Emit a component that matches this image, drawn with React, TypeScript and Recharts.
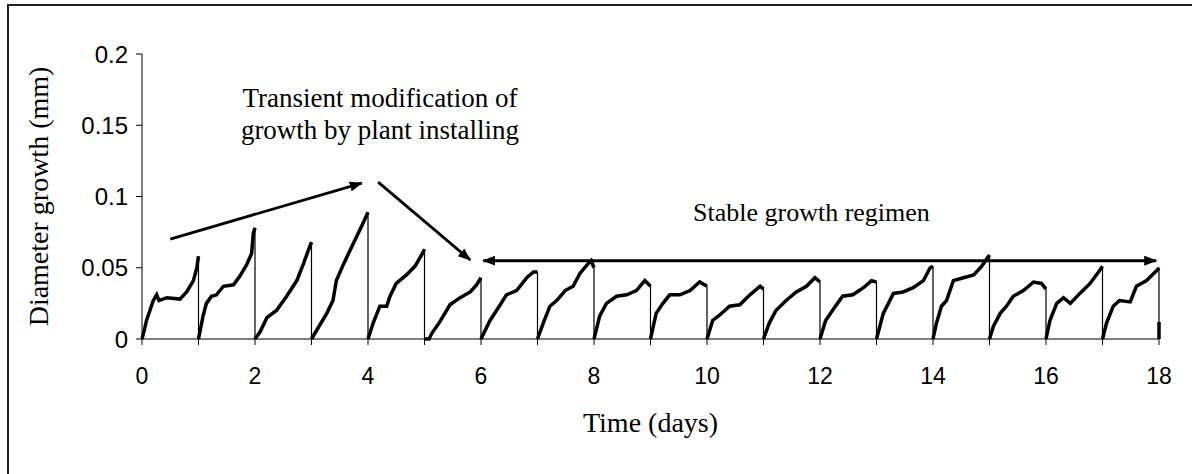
import { LineChart, Line, XAxis, YAxis, ReferenceLine } from "recharts";

type Pt = [number, number];

// daily growth curves (day, diameter growth in mm)
const day00: Pt[] = [[0, 0], [0.04, 0.006], [0.08, 0.013], [0.14, 0.02], [0.2, 0.027], [0.26, 0.031], [0.3, 0.027], [0.44, 0.029], [0.67, 0.028], [0.79, 0.033], [0.91, 0.041], [0.97, 0.05], [1, 0.058]];
const day01: Pt[] = [[1, 0], [1.08, 0.016], [1.14, 0.025], [1.23, 0.03], [1.32, 0.031], [1.44, 0.037], [1.62, 0.038], [1.73, 0.044], [1.85, 0.052], [1.94, 0.06], [1.97, 0.074], [2, 0.078]];
const day02: Pt[] = [[2, 0], [2.09, 0.005], [2.21, 0.015], [2.38, 0.02], [2.56, 0.03], [2.74, 0.041], [2.85, 0.052], [2.97, 0.065], [3, 0.068]];
const day03: Pt[] = [[3, 0], [3.15, 0.01], [3.27, 0.018], [3.38, 0.027], [3.44, 0.041], [3.56, 0.052], [3.74, 0.067], [3.92, 0.082], [4, 0.089]];
const day04: Pt[] = [[4, 0], [4.09, 0.011], [4.21, 0.023], [4.33, 0.023], [4.39, 0.03], [4.5, 0.039], [4.68, 0.045], [4.83, 0.051], [4.95, 0.059], [5, 0.063]];
const day05: Pt[] = [[5, 0], [5.08, 0], [5.13, 0.004], [5.27, 0.012], [5.45, 0.024], [5.63, 0.029], [5.81, 0.033], [5.92, 0.038], [6, 0.043]];
const day06: Pt[] = [[6, 0], [6.16, 0.013], [6.34, 0.024], [6.45, 0.031], [6.63, 0.034], [6.81, 0.043], [6.93, 0.047], [7, 0.047]];
const day07: Pt[] = [[7, 0], [7.1, 0.011], [7.22, 0.023], [7.34, 0.027], [7.49, 0.034], [7.63, 0.037], [7.75, 0.046], [7.9, 0.053], [7.95, 0.055], [8, 0.05]];
const day08: Pt[] = [[8, 0], [8.1, 0.016], [8.22, 0.025], [8.4, 0.03], [8.58, 0.031], [8.75, 0.034], [8.9, 0.041], [9, 0.037]];
const day09: Pt[] = [[9, 0], [9.1, 0.018], [9.22, 0.025], [9.34, 0.031], [9.52, 0.031], [9.7, 0.034], [9.87, 0.04], [10, 0.037]];
const day10: Pt[] = [[10, 0], [10.1, 0.013], [10.23, 0.017], [10.4, 0.023], [10.58, 0.024], [10.76, 0.031], [10.94, 0.037], [11, 0.035]];
const day11: Pt[] = [[11, 0], [11.1, 0.011], [11.22, 0.02], [11.4, 0.027], [11.58, 0.033], [11.76, 0.037], [11.91, 0.043], [12, 0.04]];
const day12: Pt[] = [[12, 0], [12.1, 0.013], [12.22, 0.02], [12.4, 0.03], [12.58, 0.031], [12.77, 0.036], [12.91, 0.041], [13, 0.04]];
const day13: Pt[] = [[13, 0], [13.12, 0.018], [13.3, 0.032], [13.47, 0.033], [13.65, 0.036], [13.83, 0.041], [13.95, 0.05], [14, 0.051]];
const day14: Pt[] = [[14, 0], [14.06, 0.011], [14.15, 0.023], [14.24, 0.027], [14.36, 0.041], [14.54, 0.043], [14.72, 0.045], [14.86, 0.051], [15, 0.059]];
const day15: Pt[] = [[15, 0], [15.07, 0.009], [15.19, 0.018], [15.3, 0.023], [15.42, 0.03], [15.6, 0.034], [15.78, 0.04], [15.92, 0.039], [16, 0.035]];
const day16: Pt[] = [[16, 0], [16.07, 0.013], [16.19, 0.025], [16.31, 0.029], [16.43, 0.025], [16.6, 0.032], [16.78, 0.039], [16.93, 0.047], [17, 0.051]];
const day17: Pt[] = [[17, 0], [17.07, 0.011], [17.19, 0.023], [17.3, 0.027], [17.49, 0.026], [17.6, 0.037], [17.78, 0.041], [17.96, 0.048], [18, 0.05]];
const day18: Pt[] = [[18, 0], [18, 0.012]];

const CURVES = [day00, day01, day02, day03, day04, day05, day06, day07, day08, day09, day10, day11, day12, day13, day14, day15, day16, day17, day18];

const X_TICKS = [0, 1, 2, 3, 4, 5, 6, 7, 8, 9, 10, 11, 12, 13, 14, 15, 16, 17, 18];
const Y_TICKS = [0, 0.05, 0.1, 0.15, 0.2];

// annotation arrows, in data coordinates
const RISE_ARROW = [{ x: 0.5, y: 0.0701 }, { x: 3.89, y: 0.1094 }];
const FALL_ARROW = [{ x: 4.18, y: 0.1101 }, { x: 5.81, y: 0.0554 }];
const STABLE_ARROW = [{ x: 6.04, y: 0.055 }, { x: 17.95, y: 0.055 }];

type Row = { t: number; v: number | null };

const curveData: Row[] = CURVES.flatMap((c) => [
  ...c.map(([t, v]) => ({ t, v })),
  { t: c[c.length - 1][0], v: null },
]);

// thin vertical resets at the end of each day
const dropData: Row[] = CURVES.slice(0, 18).flatMap((c, i) => {
  const peak = c[c.length - 1][1];
  const d = i + 1;
  return [
    { t: d, v: peak },
    { t: d, v: 0 },
    { t: d, v: null },
  ];
});

const SERIF = "'Liberation Serif', 'Times New Roman', serif";
const SANS = "'Liberation Sans', Arial, sans-serif";

function arrowShape(id: string, both: boolean, width: number) {
  return (p: any) => (
    <g>
      <defs>
        <marker
          id={id}
          markerUnits="userSpaceOnUse"
          markerWidth={13}
          markerHeight={10}
          refX={12}
          refY={5}
          orient="auto-start-reverse"
        >
          <path d="M0,0 L13,5 L0,10 z" fill="#000" />
        </marker>
      </defs>
      <line
        x1={p.x1}
        y1={p.y1}
        x2={p.x2}
        y2={p.y2}
        stroke="#000"
        strokeWidth={width}
        markerEnd={`url(#${id})`}
        markerStart={both ? `url(#${id})` : undefined}
      />
    </g>
  );
}

export default function App() {
  return (
    <div style={{ position: "relative", width: 1192, height: 474, background: "#fff" }}>
      <style>{"body{margin:0}"}</style>
      <div
        style={{
          position: "absolute",
          left: 7,
          top: 4,
          right: -10,
          bottom: -10,
          borderTop: "2px solid #222",
          borderLeft: "2px solid #222",
        }}
      />
      <LineChart width={1192} height={474} margin={{ top: 54, right: 33, left: 0, bottom: 35 }}>
        <XAxis
          type="number"
          dataKey="t"
          domain={[0, 18]}
          ticks={X_TICKS}
          tickFormatter={(v: number) => (v % 2 === 0 ? String(v) : "")}
          interval={0}
          height={100}
          tickSize={6}
          tickMargin={23}
          stroke="#000"
          tick={{ fontSize: 23, fill: "#000", fontFamily: SANS }}
          label={{
            value: "Time (days)",
            position: "insideBottom",
            offset: 7,
            style: { fontSize: 28, fill: "#000", fontFamily: SERIF },
          }}
        />
        <YAxis
          type="number"
          domain={[0, 0.2]}
          ticks={Y_TICKS}
          width={142}
          tickSize={6}
          tickMargin={8}
          stroke="#000"
          tick={{ fontSize: 24, fill: "#000", fontFamily: SANS }}
          label={{
            value: "Diameter growth (mm)",
            angle: -90,
            position: "insideLeft",
            offset: 38,
            style: { fontSize: 28, fill: "#000", fontFamily: SERIF, textAnchor: "middle" },
          }}
        />
        <Line
          data={dropData}
          dataKey="v"
          stroke="#000"
          strokeWidth={1.2}
          dot={false}
          isAnimationActive={false}
        />
        <Line
          data={curveData}
          dataKey="v"
          stroke="#000"
          strokeWidth={3.5}
          dot={false}
          isAnimationActive={false}
        />
        <ReferenceLine segment={RISE_ARROW} shape={arrowShape("arrRise", false, 2.8)} />
        <ReferenceLine segment={FALL_ARROW} shape={arrowShape("arrFall", false, 2.8)} />
        <ReferenceLine segment={STABLE_ARROW} shape={arrowShape("arrStable", true, 3)} />
      </LineChart>
      <div
        style={{
          position: "absolute",
          left: 180,
          width: 400,
          top: 83,
          textAlign: "center",
          fontFamily: SERIF,
          fontSize: 27,
          lineHeight: "31.5px",
          color: "#000",
        }}
      >
        Transient modification of
        <br />
        growth by plant installing
      </div>
      <div
        style={{
          position: "absolute",
          left: 693,
          top: 200,
          fontFamily: SERIF,
          fontSize: 26,
          lineHeight: "26px",
          color: "#000",
          whiteSpace: "nowrap",
        }}
      >
        Stable growth regimen
      </div>
    </div>
  );
}
